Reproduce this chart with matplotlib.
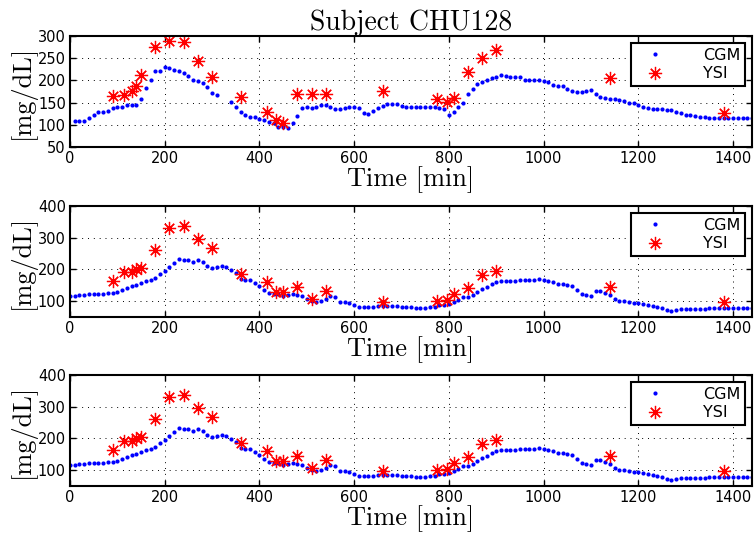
import numpy as np
import matplotlib
matplotlib.use("Agg")
import matplotlib.pyplot as plt

# ---- subject CHU128: CGM every 10 min, YSI reference draws ----
cgm1_t = [10, 20, 30, 40, 50, 60, 70, 80, 90, 100, 110, 120, 130, 140, 150, 160, 170, 180, 190, 200,
          210, 220, 230, 240, 250, 260, 270, 280, 290, 300, 310, 340, 350, 360, 370, 380, 390, 400,
          410, 420, 430, 440, 450, 460, 470, 480, 490, 500, 510, 520, 530, 540, 550, 560, 570, 580,
          590, 600, 610, 620, 630, 640, 650, 660, 670, 680, 690, 700, 710, 720, 730, 740, 750, 760,
          770, 780, 790, 800, 810, 820, 830, 840, 850, 860, 870, 880, 890, 900, 910, 920, 930, 940,
          950, 960, 970, 980, 990, 1000, 1010, 1020, 1030, 1040, 1050, 1060, 1070, 1080, 1090, 1100,
          1110, 1120, 1130, 1140, 1150, 1160, 1170, 1180, 1190, 1200, 1210, 1220, 1230, 1240, 1250,
          1260, 1270, 1280, 1290, 1300, 1310, 1320, 1330, 1340, 1350, 1360, 1370, 1380, 1390, 1400,
          1410, 1420, 1430, 1440]
cgm1_v = [107.5, 107.5, 108, 115, 121, 128, 128, 132, 137.5, 141, 141, 145, 145, 145, 158, 182.5,
          200.5, 221, 221, 230.5, 229, 224, 222, 216, 209.5, 202, 199, 195, 185, 172, 167, 151.5,
          139, 128, 122.5, 118, 116.5, 113.5, 110, 106, 103, 96, 95, 93, 104, 120, 137.5, 141, 138,
          139, 145, 145, 141, 134.5, 134.5, 138, 139, 139, 138, 126, 125, 130, 137, 142.5, 146, 146,
          146, 143, 140, 140, 140, 140, 139.5, 139.5, 139, 138, 136, 122.5, 128.5, 140, 148, 169,
          180.5, 192.5, 197, 202, 205, 207.5, 212.7, 210.5, 208, 207.5, 206.7, 201, 201, 200, 200,
          198, 196, 189.6, 188, 186.6, 180, 177, 174, 174, 176, 177.6, 169.4, 163.5, 160.5, 158,
          157.5, 156.7, 153, 150, 148.5, 145, 140.5, 137, 136, 135, 134.5, 133.6, 133, 129, 126,
          122.6, 121, 119.6, 118, 116.6, 116, 115, 115, 116, 116, 116, 116, 116, 116, 116]

ysi_t = [90, 115, 130, 140, 150, 180, 210, 240, 270, 300, 360, 415, 435, 450, 480, 510, 540,
         660, 775, 795, 810, 840, 870, 900, 1140, 1380]
ysi1_v = [165, 167, 176, 188, 212, 276, 288, 286, 244, 207, 162, 128, 110, 103, 169, 169, 169,
          175, 159, 152, 160, 220, 250, 268, 205, 127]

cgm2_t = list(range(0, 1450, 10))
cgm2_v = [116, 117, 118, 119, 121, 122, 123, 124, 126, 127, 129, 134, 143, 147, 150, 156, 162, 168,
          174, 185, 196, 207, 219, 232, 230, 229, 225, 229, 223.5, 210, 204, 208, 211, 207, 199.5,
          190, 171, 167, 167, 157.6, 147, 135.5, 126, 124, 122, 117, 120, 121, 120, 116, 106.6, 102,
          96, 99, 108, 115, 113.6, 97, 97, 93, 87.5, 83, 81, 81, 81, 85, 85, 86, 86, 84, 83, 81, 80,
          79, 78, 78, 80, 83, 88.5, 88.5, 90.6, 97, 104, 111.5, 113.6, 120, 128, 138, 144, 153, 160,
          163, 163, 165, 165, 166, 166, 167, 168, 170, 168, 163, 160, 154.5, 153, 152, 147, 135.6,
          124, 119, 116, 132.5, 132, 125, 120, 107, 102, 99, 97, 95, 93, 90, 87, 84, 82, 77, 72, 70,
          72, 75, 75, 75, 75, 75, 76, 77, 78, 78, 79, 79, 79, 79, 79, 79, 79]
ysi2_v = [163, 192, 192, 200, 206, 260, 331, 338, 295, 269, 186, 161, 130, 130, 145, 107, 132.5,
          96, 99, 105, 124, 142, 182, 196, 145, 96]

panels = [(cgm1_t, cgm1_v, ysi1_v, (50, 300), [50, 100, 150, 200, 250, 300]),
          (cgm2_t, cgm2_v, ysi2_v, (50, 400), [100, 200, 300, 400]),
          (cgm2_t, cgm2_v, ysi2_v, (50, 400), [100, 200, 300, 400])]

W, H = 755, 534
tops = [36, 206, 375]

fig = plt.figure(figsize=(W / 100, H / 100), dpi=100)
serif = dict(fontfamily="cmr10", fontsize=19)

for i, (ct, cv, yv, ylim, yticks) in enumerate(panels):
    ax = fig.add_axes([70 / W, 1 - (tops[i] + 111) / H, 682 / W, 111 / H])
    ax.plot(ct, cv, ls="none", marker="o", ms=3, color="b", mec="none", label="CGM")
    ax.plot(ysi_t, yv, ls="none", marker=(8, 2, 0), ms=9.5, mew=0.9, color="r", label="YSI")
    ax.set_xlim(0, 1440)
    ax.set_ylim(*ylim)
    ax.set_xticks(range(0, 1401, 200))
    ax.set_yticks(yticks)
    ax.grid(True, color="k", lw=0.7, ls=(0, (1, 5)))
    ax.tick_params(direction="in", top=True, right=True, length=4, width=1,
                   labelsize=10.5, pad=3)
    for s in ax.spines.values():
        s.set_linewidth(1.5)
    ax.set_xlabel("Time [min]", labelpad=0, **serif)
    ax.set_ylabel("[mg/dL]", labelpad=1, **serif)
    leg = ax.legend(loc="upper right", fontsize=11.5, frameon=True, fancybox=False,
                    framealpha=1, edgecolor="k", borderaxespad=0.45, handlelength=2.4,
                    handletextpad=1.8, labelspacing=0.2, borderpad=0.3)
    leg.get_frame().set_linewidth(1.5)
    if i == 0:
        ax.set_title("Subject CHU128", fontfamily="cmr10", fontsize=20, pad=4)

fig.savefig("out.png", dpi=100)
